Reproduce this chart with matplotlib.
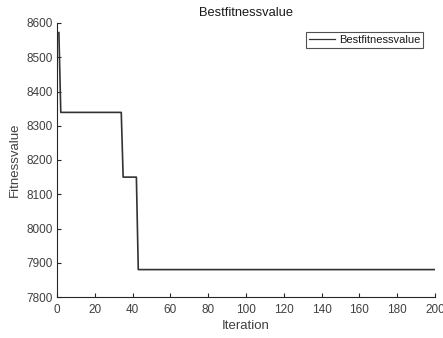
import matplotlib
matplotlib.use("Agg")
import matplotlib.pyplot as plt
import numpy as np

plt.rcParams['font.family'] = ['Liberation Sans', 'DejaVu Sans']

# data: best fitness value per iteration
iterations = list(range(1, 201))
first_value = 8572
plateau_values = [8339, 8150, 7880]
plateau_starts = [2, 35, 43]

values = []
for it in iterations:
    v = first_value
    for s, pv in zip(plateau_starts, plateau_values):
        if it >= s:
            v = pv
    values.append(v)

xticks = [0, 20, 40, 60, 80, 100, 120, 140, 160, 180, 200]
yticks = [7800, 7900, 8000, 8100, 8200, 8300, 8400, 8500, 8600]

txt = '#404040'
fig = plt.figure(figsize=(4.43, 3.38), dpi=100)
ax = fig.add_axes([57/443, 1-297/338, (435-57)/443, (297-23)/338])
ax.plot(iterations, values, color='#333333', lw=1.2, label='Bestfitnessvalue')
ax.set_xlim(0, 200)
ax.set_ylim(7800, 8600)
ax.set_xticks(xticks)
ax.set_yticks(yticks)
for s in ['top', 'right']:
    ax.spines[s].set_visible(False)
for s in ['left', 'bottom']:
    ax.spines[s].set_color('#262626')
    ax.spines[s].set_linewidth(0.8)
ax.tick_params(direction='in', length=3, width=0.8, colors='#262626',
               labelcolor=txt, labelsize=8.5)
ax.tick_params(axis='x', pad=5)
ax.tick_params(axis='y', pad=3)
ax.set_xlabel('Iteration', fontsize=9.5, color=txt, labelpad=3)
ax.set_ylabel('Fitnessvalue', fontsize=9.5, color=txt, labelpad=4)
ax.set_title('Bestfitnessvalue', fontsize=9.3, color='#1a1a1a', pad=5)
leg = ax.legend(loc='upper right', bbox_to_anchor=(0.968, 0.967), fontsize=8,
                frameon=True, fancybox=False, handlelength=2.4,
                borderpad=0.25, handletextpad=0.3, borderaxespad=0)
leg.get_frame().set_edgecolor('#262626')
leg.get_frame().set_linewidth(0.8)
for line in leg.get_lines():
    line.set_linewidth(0.9)
for t in leg.get_texts():
    t.set_color('#1a1a1a')
fig.savefig('out.png', dpi=100)
